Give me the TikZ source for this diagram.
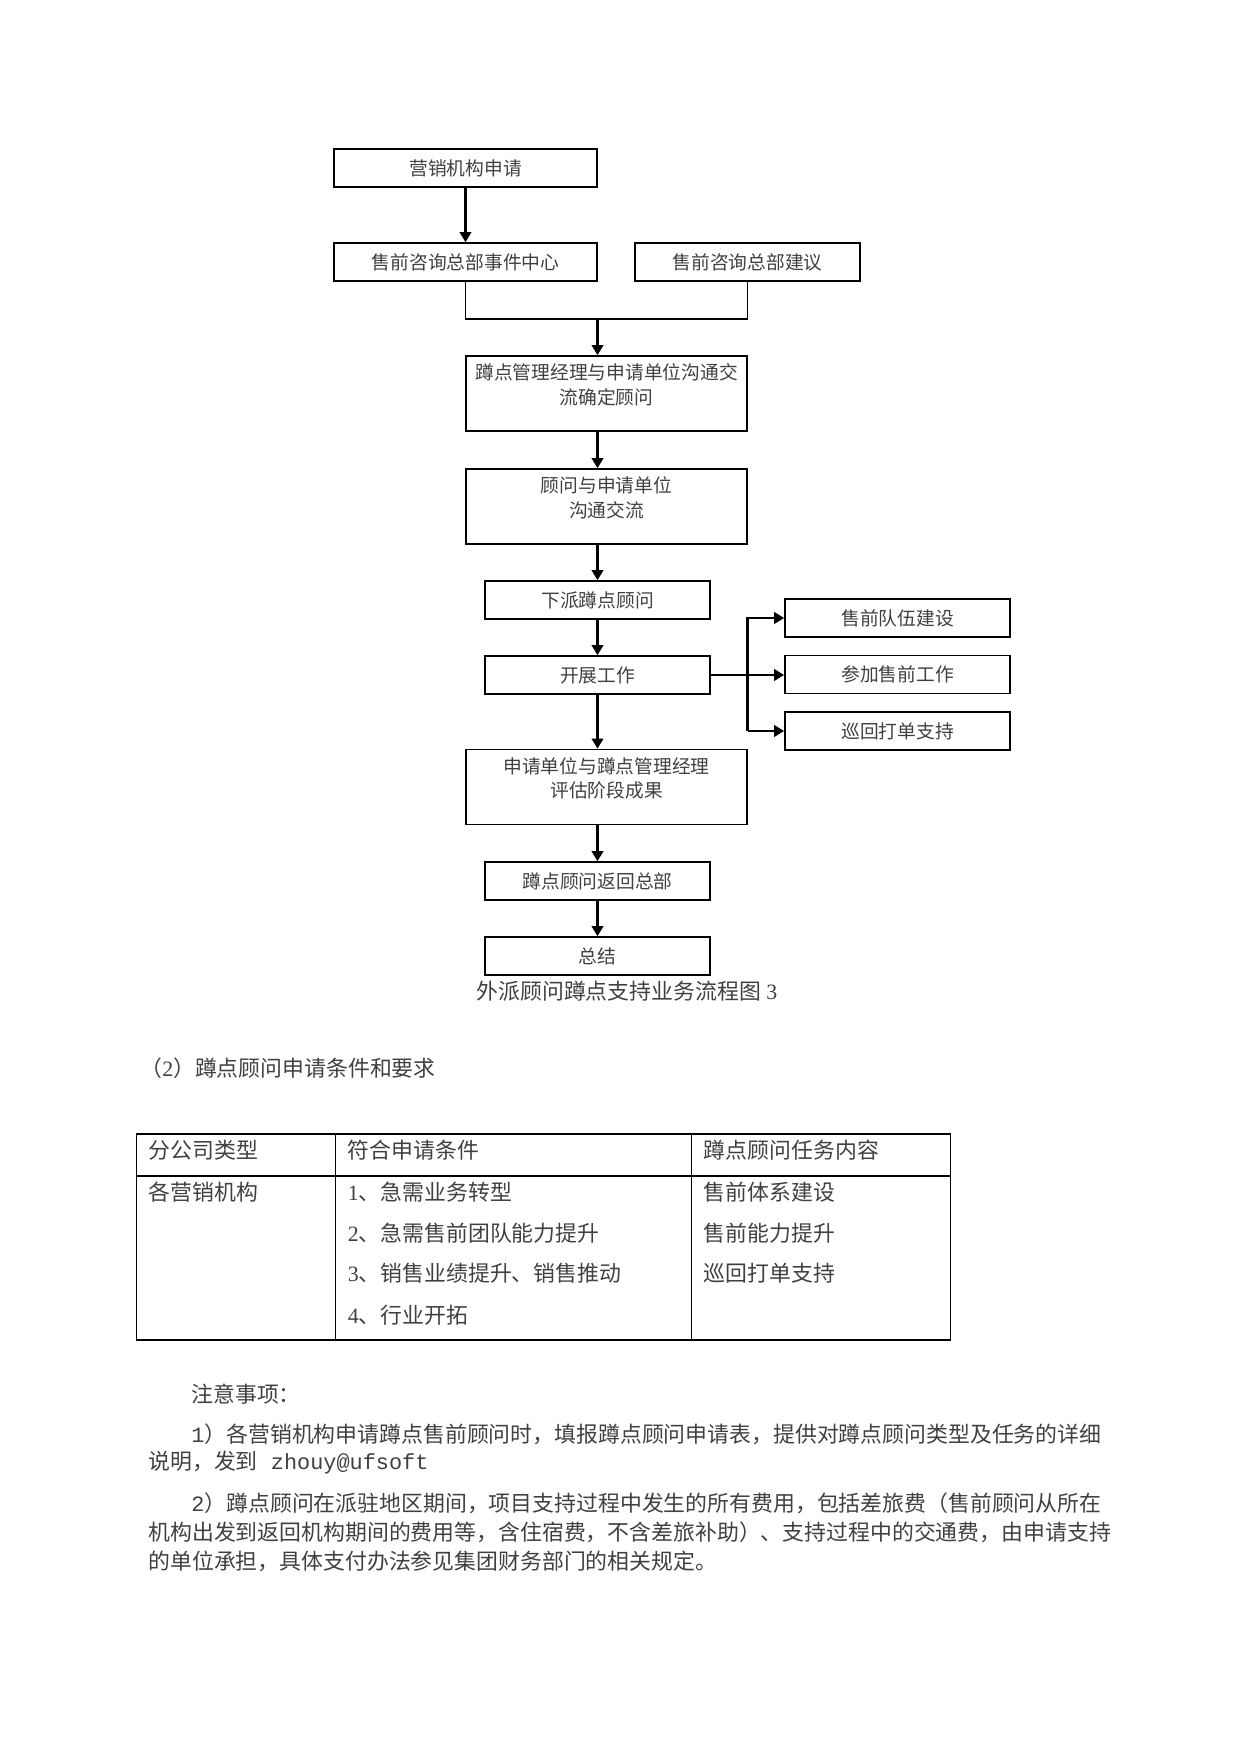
\documentclass[tikz,border=0pt]{standalone}
\usepackage{fontspec}
\setmainfont{Noto Sans CJK SC}
\newfontfamily\latinserif{Liberation Serif}
\newfontfamily\latinmono{Liberation Mono}
\usetikzlibrary{positioning, calc, arrows.meta}

\tikzset{
  box/.style={draw, line width=0.8pt, minimum width=108pt, minimum height=18.24pt,
    inner sep=0pt, font=\fontsize{9pt}{11.76pt}\selectfont, text=black!75},
  widebox/.style={box, minimum width=126.24pt},
  bigbox/.style={box, minimum width=134.88pt, minimum height=36pt, align=center},
  arr/.style={-{Triangle[width=5.5pt,length=4.8pt]}, line width=1pt},
  link/.style={line width=0.8pt},
  body/.style={font=\fontsize{10.5pt}{13pt}\selectfont, text=black!75, inner sep=0pt},
  cell/.style={body, anchor=west},
}

\begin{document}
\begin{tikzpicture}[x=0.48pt, y=-0.48pt]
\useasboundingbox (0,0) rectangle (1241,1754);

% flow chart
\node[widebox] (req) at (465.5,168) {营销机构申请};
\node[widebox] (event) at (465.5,262) {售前咨询总部事件中心};
\node[box] (advice) at (747.5,262) {售前咨询总部建议};
\node[bigbox] (assign) at (606.5,393.5) {蹲点管理经理与申请单位沟通交\\流确定顾问\\[-2.9pt]~};
\node[bigbox] (talk) at (606.5,506.5) {顾问与申请单位\\沟通交流\\[-2.9pt]~};
\node[box] (dispatch) at (597.5,600) {下派蹲点顾问};
\node[box] (work) at (597.5,675) {开展工作};
\node[bigbox] (assess) at (606.5,787) {申请单位与蹲点管理经理\\评估阶段成果\\[-2.9pt]~};
\node[box] (back) at (597.5,881) {蹲点顾问返回总部};
\node[box] (summary) at (597.5,956) {总结};

\node[box] (team) at (897.5,618) {售前队伍建设};
\node[box] (attend) at (897.5,674.5) {参加售前工作};
\node[box] (tour) at (897.5,731) {巡回打单支持};

\coordinate (join) at (597.5,319);
\coordinate (fork) at (747.5,675);

\draw[arr] (req) -- (event);
\draw[link] (event.south) |- (join) -| (advice.south);
\draw[arr] (join) -- (join |- assign.north);
\draw[arr] (assign.south -| dispatch) -- (talk.north -| dispatch);
\draw[arr] (talk.south -| dispatch) -- (dispatch);
\draw[arr] (dispatch) -- (work);
\draw[arr] (work) -- (work |- assess.north);
\draw[arr] (assess.south -| back) -- (back);
\draw[arr] (back) -- (summary);

\draw[arr] (work.east) -- (work.east -| attend.west);
\draw[arr] (fork |- tour.west) |- (team.west);
\draw[arr] (fork |- tour.west) -- (tour.west);

\node[body] (caption) at (627,991) {外派顾问蹲点支持业务流程图{\latinserif\ 3}};

% conditions table
\node[body, anchor=west] (heading) at (140,1068) {（{\latinserif 2}）蹲点顾问申请条件和要求};

\draw[line width=0.6pt] (136.5,1134) rectangle (950.5,1340);
\draw[line width=0.6pt] (136.5,1176) -- (950.5,1176);
\draw[line width=0.6pt] (335.7,1134) -- (335.7,1340);
\draw[line width=0.6pt] (691.5,1134) -- (691.5,1340);

\node[cell] (typehead) at (148.5,1150) {分公司类型};
\node[cell] (condhead) at (347.5,1150) {符合申请条件};
\node[cell] (taskhead) at (703.5,1150) {蹲点顾问任务内容};

\node[cell] (typeall) at (148.5,1192) {各营销机构};
\node[cell] (cond1) at (347.5,1192) {{\latinserif 1}、急需业务转型};
\node[cell] (cond2) at (347.5,1233) {{\latinserif 2}、急需售前团队能力提升};
\node[cell] (cond3) at (347.5,1273) {{\latinserif 3}、销售业绩提升、销售推动};
\node[cell] (cond4) at (347.5,1315) {{\latinserif 4}、行业开拓};
\node[cell] (task1) at (703.5,1192) {售前体系建设};
\node[cell] (task2) at (703.5,1233) {售前能力提升};
\node[cell] (task3) at (703.5,1273) {巡回打单支持};

% notes
\node[cell] (notehead) at (191,1394) {注意事项：};
\node[cell] (note1a) at (191,1434) {{\latinmono 1}）各营销机构申请蹲点售前顾问时，填报蹲点顾问申请表，提供对蹲点顾问类型及任务的详细};
\node[cell] (note1b) at (148,1463) {说明，发到{\latinmono\ zhouy@ufsoft}};
\node[cell] (note2a) at (191,1503) {{\latinmono 2}）蹲点顾问在派驻地区期间，项目支持过程中发生的所有费用，包括差旅费（售前顾问从所在};
\node[cell] (note2b) at (148,1532) {机构出发到返回机构期间的费用等，含住宿费，不含差旅补助）、支持过程中的交通费，由申请支持};
\node[cell] (note2c) at (148,1561) {的单位承担，具体支付办法参见集团财务部门的相关规定。};
\end{tikzpicture}
\end{document}
